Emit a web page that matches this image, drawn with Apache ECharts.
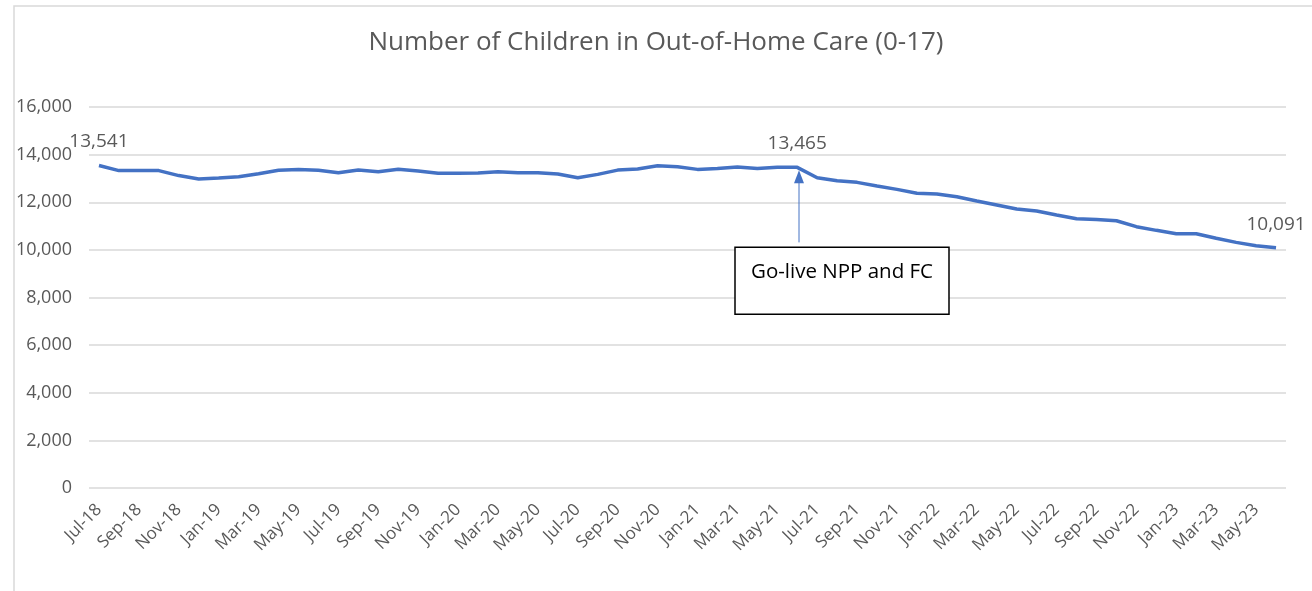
<!DOCTYPE html>
<html><head><meta charset="utf-8">
<script src="https://cdn.jsdelivr.net/npm/echarts@6/dist/echarts.min.js"></script>
<style>html,body{margin:0;padding:0;background:#fff}#c{width:1312px;height:591px}</style>
</head><body><div id="c"></div>
<script>
const titleText = 'Number of Children in Out-of-Home Care (0-17)';
const categoryLabels = [
 'Jul-18','Aug-18','Sep-18','Oct-18','Nov-18','Dec-18','Jan-19','Feb-19','Mar-19','Apr-19','May-19','Jun-19',
 'Jul-19','Aug-19','Sep-19','Oct-19','Nov-19','Dec-19','Jan-20','Feb-20','Mar-20','Apr-20','May-20','Jun-20',
 'Jul-20','Aug-20','Sep-20','Oct-20','Nov-20','Dec-20','Jan-21','Feb-21','Mar-21','Apr-21','May-21','Jun-21',
 'Jul-21','Aug-21','Sep-21','Oct-21','Nov-21','Dec-21','Jan-22','Feb-22','Mar-22','Apr-22','May-22','Jun-22',
 'Jul-22','Aug-22','Sep-22','Oct-22','Nov-22','Dec-22','Jan-23','Feb-23','Mar-23','Apr-23','May-23','Jun-23'
];
const childrenInCare = [
 13541,13330,13330,13330,13120,12980,13020,13075,13200,13340,13380,13340,
 13240,13350,13280,13390,13310,13215,13215,13230,13280,13240,13240,13185,
 13030,13170,13350,13400,13535,13490,13380,13420,13480,13420,13470,13465,
 13030,12900,12835,12680,12540,12375,12345,12230,12050,11885,11715,11630,
 11465,11310,11280,11225,10975,10820,10680,10680,10485,10315,10175,10091
];
const labelledIndices = [0, 35, 59];
const yTicks = { min: 0, max: 16000, interval: 2000 };
const annotationText = 'Go-live NPP and FC';
const annotationIndex = 35;

const gray = '#595959';
const font = 'Open Sans';

const chart = echarts.init(document.getElementById('c'), null, {renderer: 'canvas'});
const seriesData = childrenInCare.map((v, i) => labelledIndices.includes(i)
  ? {value: v, label: {show: true}} : {value: v});

chart.setOption({
  backgroundColor: '#fff',
  animation: false,
  title: {
    text: titleText, left: 'center', top: 25,
    textStyle: {color: gray, fontSize: 26, fontWeight: 'normal', fontFamily: font}
  },
  grid: {left: 89, right: 26, top: 107, bottom: 103, containLabel: false},
  xAxis: {
    type: 'category', data: categoryLabels, boundaryGap: true,
    axisLine: {show: false}, axisTick: {show: false},
    axisLabel: {interval: 1, rotate: 45, color: gray, fontSize: 17, fontFamily: font, margin: 19}
  },
  yAxis: {
    type: 'value', min: yTicks.min, max: yTicks.max, interval: yTicks.interval,
    axisLine: {show: false}, axisTick: {show: false},
    splitLine: {lineStyle: {color: '#d9d9d9', width: 1.5}},
    axisLabel: {color: gray, fontSize: 18, fontFamily: font, margin: 17,
      formatter: v => v.toLocaleString('en-US')}
  },
  series: [{
    type: 'line', data: seriesData, symbol: 'circle', symbolSize: 0, showSymbol: true,
    smooth: false,
    itemStyle: {color: '#4472c4'},
    lineStyle: {color: '#4472c4', width: 3.5},
    labelLayout: {hideOverlap: false},
    label: {show: false, position: 'top', distance: 14, color: gray, fontSize: 19, fontFamily: font,
      formatter: p => Number(p.value).toLocaleString('en-US')}
  }]
});

function drawAnnotation() {
  const px = chart.convertToPixel({seriesIndex: 0}, [annotationIndex, childrenInCare[annotationIndex]]);
  const x = Math.round(px[0]) + 2;
  const tipY = px[1] + 3;
  const boxTop = tipY + 77;
  chart.setOption({
    graphic: [
      {type: 'rect', shape: {x: 14, y: 6, width: 1400, height: 700},
       style: {fill: 'none', stroke: '#d9d9d9', lineWidth: 1.5}, silent: true},
      {type: 'line', shape: {x1: x, y1: tipY + 12, x2: x, y2: boxTop - 5},
       style: {stroke: '#4472c4', lineWidth: 1}},
      {type: 'polygon', shape: {points: [[x, tipY], [x - 5, tipY + 13], [x + 5, tipY + 13]]},
       style: {fill: '#4472c4'}},
      {type: 'rect', shape: {x: x - 64, y: boxTop, width: 214, height: 67},
       style: {fill: '#fff', stroke: '#000', lineWidth: 1.5}},
      {type: 'text', x: x + 43, y: boxTop + 25,
       style: {text: annotationText, fill: '#000', fontSize: 20.5, fontFamily: font,
         textAlign: 'center', textVerticalAlign: 'middle'}}
    ]
  });
}
drawAnnotation();
</script>
</body></html>
